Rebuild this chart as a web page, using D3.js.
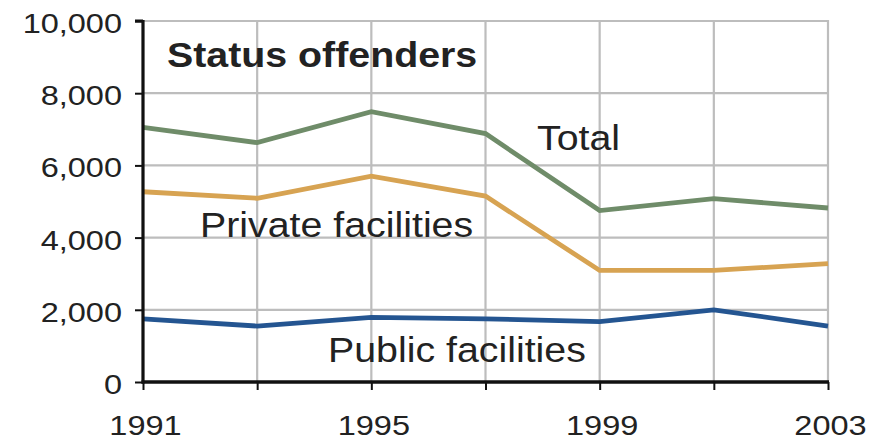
<!DOCTYPE html>
<html><head><meta charset="utf-8">
<script src="https://cdn.jsdelivr.net/npm/d3@7"></script>
<style>
html,body{margin:0;padding:0;background:#fff;}
svg{display:block;font-family:"Liberation Sans",Arial,Helvetica,sans-serif;}
</style></head>
<body>
<svg id="chart" width="885" height="441"></svg>
<script>
const years = [1991, 1993, 1995, 1997, 1999, 2001, 2003];
const totalValues = [7050, 6630, 7490, 6880, 4750, 5080, 4820];
const privateValues = [5270, 5090, 5700, 5150, 3090, 3090, 3280];
const publicValues = [1750, 1550, 1790, 1750, 1670, 2000, 1550];
const yTicks = [0, 2000, 4000, 6000, 8000, 10000];
const xLabelYears = [1991, 1995, 1999, 2003];
const title = "Status offenders";
const seriesNames = ["Total", "Private facilities", "Public facilities"];

const SX = 1.14;
const svg = d3.select("#chart");
const x = d3.scaleLinear().domain([1991, 2003]).range([143, 828]);
const y = d3.scaleLinear().domain([0, 10000]).range([382, 21]);

// grid
const grid = svg.append("g").attr("stroke", "#bdbdbd").attr("stroke-width", 2.2);
grid.selectAll("line.h").data(yTicks.filter(d => d > 0)).join("line")
  .attr("x1", x(1991)).attr("x2", x(2003)).attr("y1", d => y(d)).attr("y2", d => y(d));
grid.selectAll("line.v").data(years.filter(d => d > 1991)).join("line")
  .attr("x1", d => x(d)).attr("x2", d => x(d)).attr("y1", y(10000) - 1).attr("y2", y(0));

// lines
const line = d3.line().x((d, i) => x(years[i])).y(d => y(d));
const series = [
  {vals: totalValues, color: "#6f8c69"},
  {vals: privateValues, color: "#d7a352"},
  {vals: publicValues, color: "#245591"}
];
series.forEach(s => {
  svg.append("path").attr("d", line(s.vals)).attr("fill", "none")
    .attr("stroke", s.color).attr("stroke-width", 4.8).attr("stroke-linejoin", "miter");
});

// axes
const yAxis = d3.axisLeft(y).tickValues(yTicks).tickSize(8).tickPadding(14)
  .tickFormat(d3.format(","));
const gy = svg.append("g").attr("transform", `translate(${x(1991)},0)`).call(yAxis);
gy.select(".domain").attr("stroke", "#111").attr("stroke-width", 3.2)
  .attr("d", `M0,${y(10000)-1}V${y(0)+1.5}M-8,${y(10000)}H0`);
gy.selectAll(".tick line").attr("stroke", "#111").attr("stroke-width", 2);
gy.selectAll(".tick text").attr("font-size", 28.5).attr("fill", "#222")
  .attr("dy", "0.4em").attr("font-family", "Liberation Sans, Arial, sans-serif")
  .attr("transform", `scale(${SX},1)`).attr("x", -21 / SX);

const xAxis = d3.axisBottom(x).tickValues(years).tickSize(8).tickPadding(14)
  .tickFormat(d => xLabelYears.includes(d) ? String(d) : "");
const gx = svg.append("g").attr("transform", `translate(0,${y(0)})`).call(xAxis);
gx.select(".domain").attr("stroke", "#111").attr("stroke-width", 3.4)
  .attr("d", `M${x(1991)-1.5},0H${x(2003)+1}`);
gx.selectAll(".tick line").attr("stroke", "#111").attr("stroke-width", 2);
gx.selectAll(".tick text").attr("font-size", 28.5).attr("fill", "#222")
  .attr("font-family", "Liberation Sans, Arial, sans-serif")
  .attr("y", 0).attr("dy", 0).attr("transform", `translate(2,53) scale(${SX},1)`);

// labels
function label(txt, px, py, size, weight) {
  svg.append("text").attr("transform", `translate(${px},${py}) scale(${SX},1)`)
    .attr("font-size", size).attr("font-weight", weight).attr("fill", "#222")
    .text(txt);
}
label(title, 167, 67, 34.5, "bold");
label(seriesNames[0], 537, 150, 34.5, "normal");
label(seriesNames[1], 200, 237, 34.5, "normal");
label(seriesNames[2], 328, 362, 34.5, "normal");
</script>
</body></html>
